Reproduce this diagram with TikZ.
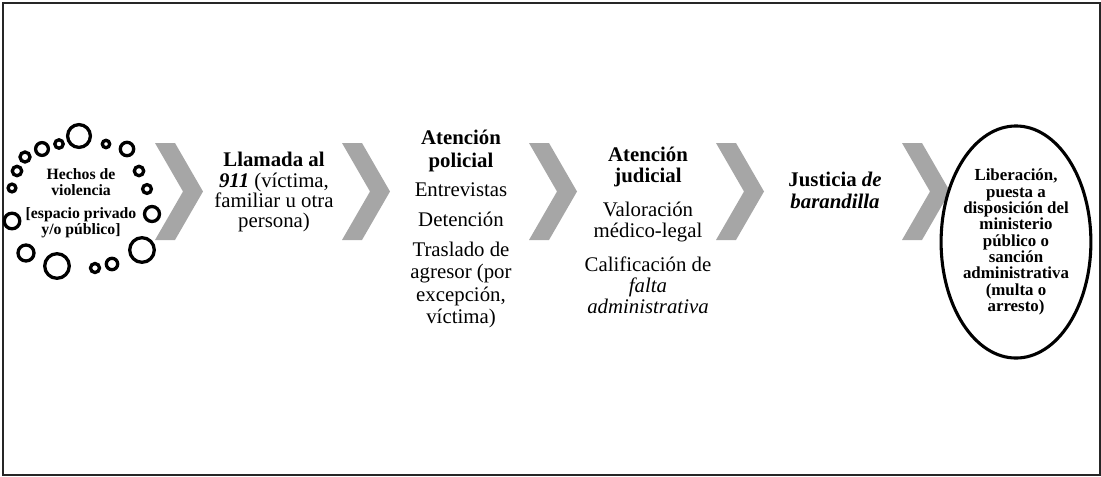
\documentclass[tikz,border=0pt]{standalone}
\usepackage{fontspec}
\setmainfont{Liberation Serif}
\usetikzlibrary{shapes}
\newcommand\apretado{\setlength{\lineskiplimit}{-20pt}}

\begin{document}
\begin{tikzpicture} [x=0.025cm,y=-0.025cm,every node/.style={inner sep=0pt,align=center},
  paso/.style={anchor=north,font=\fontsize{14.8}{15.6}\selectfont},
  anillo/.style={draw,line width=2.35pt},
  flecha/.style={fill=black!35}]

  \useasboundingbox (0,0) rectangle (1101,476);
  \draw[line width=0.9pt,black!85] (3,3) rectangle (1100,475);

  % hechos de violencia
  \node (1) [anchor=north,font=\fontsize{11.2}{11.4}\selectfont\bfseries] at (81,168)
    {Hechos de\\violencia\\[5pt][espacio privado\\y/o público]};
  \foreach \x/\y/\r in {79/136/11.4, 59/144/4.2, 42/149/6.4, 25/157/5, 17/171/4.7, 12/188/3.9,
      12/221/7.8, 26/253/8, 57/266/12.3, 95/268/4.5, 112/264/5.7, 142/250/12.3,
      152/214/7.5, 147/189/4.4, 139/171/4.7, 127/149/6.7, 106/144/3.7}
    \draw[anillo] (\x,\y) circle (\r);

  % flechas
  \foreach \x in {155,342,529,716,902}
    \fill[flecha] (\x,143) -- ++(20,0) -- ++(28,48.5) -- ++(-28,48.5) -- ++(-20,0) -- ++(28,-48.5) -- cycle;

  \node (2) [paso,font=\fontsize{14.8}{14.5}\selectfont] at (274,152)
    {\textbf{Llamada al}\\\textbf{\textit{911}} (víctima,\\familiar u otra\\persona)};
  \node (3) [paso,font=\fontsize{14.8}{15.9}\selectfont] at (461,130)
    {\textbf{Atención}\\\textbf{policial}\\[5.3pt]Entrevistas\\[5.3pt]Detención\\[5.3pt]Traslado de\\agresor (por\\excepción,\\víctima)};
  \node (4) [paso,font=\fontsize{14.8}{14.6}\selectfont] at (648,147)
    {\textbf{Atención}\\\textbf{judicial}\\[10pt]Valoración\\médico-legal\\[10pt]Calificación de\\\textit{falta}\\\textit{administrativa}};
  \node (5) [paso,font=\fontsize{14.8}{15.4}\selectfont] at (835,172)
    {\textbf{Justicia \textit{de}}\\\textbf{\textit{barandilla}}};
  \node (6) [ellipse,draw,line width=2.2pt,minimum width=3.25cm,minimum height=5.8cm,
    font=\fontsize{12}{11.6}\selectfont\bfseries\apretado] at (1016,242)
    {Liberación,\\puesta a\\disposición del\\ministerio\\público o\\sanción\\administrativa\\(multa o\\arresto)};

\end{tikzpicture}
\end{document}
